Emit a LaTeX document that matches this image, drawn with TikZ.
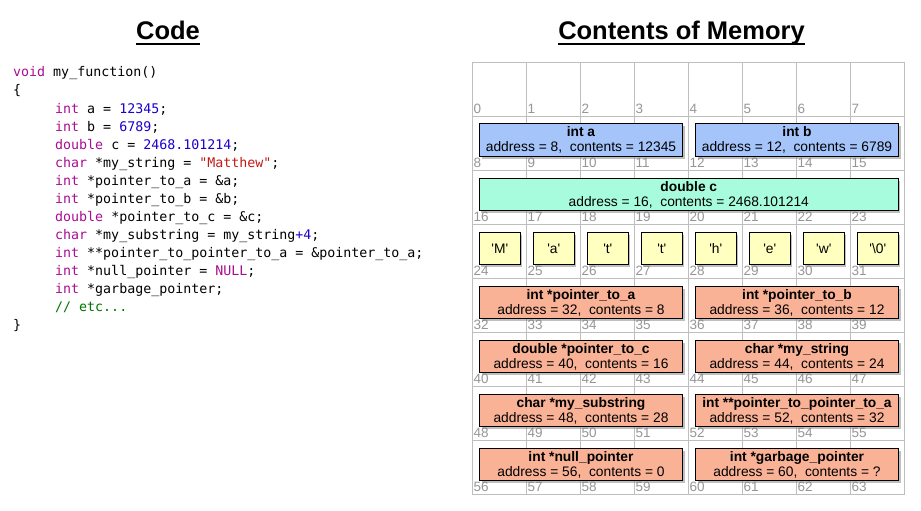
\documentclass[tikz,border=0pt]{standalone}
\usepackage{fontspec}
\setmainfont{Liberation Sans}[Ligatures=TeXOff]
\newfontfamily\codefont{DejaVu Sans Mono}
\usetikzlibrary{shadows}
\definecolor{kwc}{RGB}{170,13,145}
\definecolor{numc}{RGB}{28,0,207}
\definecolor{strc}{RGB}{196,26,22}
\definecolor{cmtc}{RGB}{0,116,0}
\definecolor{gridgray}{RGB}{190,190,190}
\definecolor{addrgray}{RGB}{150,150,150}
\definecolor{intblue}{RGB}{164,196,250}
\definecolor{dblmint}{RGB}{166,252,220}
\definecolor{charyel}{RGB}{255,255,192}
\definecolor{ptrsalmon}{RGB}{250,178,150}
\newcommand{\ckw}[1]{\textcolor{kwc}{#1}}
\newcommand{\cnum}[1]{\textcolor{numc}{#1}}
\newcommand{\cstr}[1]{\textcolor{strc}{#1}}
\newcommand{\ccmt}[1]{\textcolor{cmtc}{#1}}
\begin{document}
\begin{tikzpicture}[x=1pt,y=-1pt,
  gridline/.style={draw=gridgray, line width=1.4pt},
  addr/.style={anchor=base west, inner sep=0, text=addrgray, font=\fontsize{13.5}{13.5}\selectfont},
  membox/.style={draw=black, line width=1.3pt, inner sep=0, align=center,
    minimum height=32.5pt, font=\fontsize{13.8}{15}\selectfont,
    drop shadow={shadow xshift=2pt, shadow yshift=-2.5pt, opacity=0.5}},
  intbox/.style={membox, fill=intblue, minimum width=203pt},
  dblbox/.style={membox, fill=dblmint, minimum width=419pt},
  charbox/.style={membox, fill=charyel, minimum width=41pt},
  ptrbox/.style={membox, fill=ptrsalmon, minimum width=203pt},
  codeline/.style={anchor=base west, inner sep=0, font=\codefont\fontsize{13.3}{18}\selectfont},
  titletext/.style={anchor=base, inner sep=0, font=\bfseries\fontsize{25.5}{30}\selectfont},
  uline/.style={line width=2pt}]
\useasboundingbox (0,0) rectangle (921,511);
\fill[white] (0,0) rectangle (921,511);

% titles
\node[titletext] (tcode) at (168,40) {Code};
\node[titletext] (tmem) at (681.5,40) {Contents of Memory};
\draw[uline] ([yshift=-4pt]tcode.base west) -- ([yshift=-4pt]tcode.base east);
\draw[uline] ([yshift=-4pt]tmem.base west) -- ([yshift=-4pt]tmem.base east);

% code
\node[codeline] (c1) at (13,77) {\ckw{void} my\_function()};
\node[codeline] (c2) at (13,95) {\{};
\node[codeline] (c3) at (55,113) {\ckw{int} a = \cnum{12345};};
\node[codeline] (c4) at (55,131) {\ckw{int} b = \cnum{6789};};
\node[codeline] (c5) at (55,149) {\ckw{double} c = \cnum{2468.101214};};
\node[codeline] (c6) at (55,167) {\ckw{char} *my\_string = \cstr{"Matthew"};};
\node[codeline] (c7) at (55,185) {\ckw{int} *pointer\_to\_a = \&a;};
\node[codeline] (c8) at (55,203) {\ckw{int} *pointer\_to\_b = \&b;};
\node[codeline] (c9) at (55,221) {\ckw{double} *pointer\_to\_c = \&c;};
\node[codeline] (c10) at (55,239) {\ckw{char} *my\_substring = my\_string\cnum{+4};};
\node[codeline] (c11) at (55,257) {\ckw{int} **pointer\_to\_pointer\_to\_a = \&pointer\_to\_a;};
\node[codeline] (c12) at (55,275) {\ckw{int} *null\_pointer = \ckw{NULL};};
\node[codeline] (c13) at (55,293) {\ckw{int} *garbage\_pointer;};
\node[codeline] (c14) at (55,311) {\ccmt{// etc...}};
\node[codeline] (c15) at (13,329) {\}};

% memory grid
\foreach \i in {0,...,8} {
  \draw[gridline] ({472.5+54*\i},62.5) -- ({472.5+54*\i},494.5);
  \draw[gridline] (472.5,{62.5+54*\i}) -- (904.5,{62.5+54*\i});
}
\foreach \r in {0,...,7} {
  \foreach \c in {0,...,7} {
    \pgfmathtruncatemacro\n{8*\r+\c}
    \node[addr] (a\n) at ({473.5+54*\c},{113+54*\r}) {\n};
  }
}

% variables
\node[intbox] (va) at (581,140) {\textbf{int a}\\address = 8,~ contents = 12345};
\node[intbox] (vb) at (797,140) {\textbf{int b}\\address = 12,~ contents = 6789};
\node[dblbox] (vc) at (688.8,194.5) {\textbf{double c}\\address = 16,~ contents = 2468.101214};
\node[charbox] (s0) at ({499.8+54*0},248.5) {'M'};
\node[charbox] (s1) at ({499.8+54*1},248.5) {'a'};
\node[charbox] (s2) at ({499.8+54*2},248.5) {'t'};
\node[charbox] (s3) at ({499.8+54*3},248.5) {'t'};
\node[charbox] (s4) at ({499.8+54*4},248.5) {'h'};
\node[charbox] (s5) at ({499.8+54*5},248.5) {'e'};
\node[charbox] (s6) at ({499.8+54*6},248.5) {'w'};
\node[charbox] (s7) at ({499.8+54*7},248.5) {'\textbackslash 0'};
\node[ptrbox] (pa) at (581,302.5) {\textbf{int *pointer\_to\_a}\\address = 32,~ contents = 8};
\node[ptrbox] (pb) at (797,302.5) {\textbf{int *pointer\_to\_b}\\address = 36,~ contents = 12};
\node[ptrbox] (pc) at (581,356.5) {\textbf{double *pointer\_to\_c}\\address = 40,~ contents = 16};
\node[ptrbox] (ps) at (797,356.5) {\textbf{char *my\_string}\\address = 44,~ contents = 24};
\node[ptrbox] (pss) at (581,410.5) {\textbf{char *my\_substring}\\address = 48,~ contents = 28};
\node[ptrbox] (ppa) at (797,410.5) {\textbf{int **pointer\_to\_pointer\_to\_a}\\address = 52,~ contents = 32};
\node[ptrbox] (pn) at (581,464.5) {\textbf{int *null\_pointer}\\address = 56,~ contents = 0};
\node[ptrbox] (pg) at (797,464.5) {\textbf{int *garbage\_pointer}\\address = 60,~ contents = ?};
\end{tikzpicture}
\end{document}
